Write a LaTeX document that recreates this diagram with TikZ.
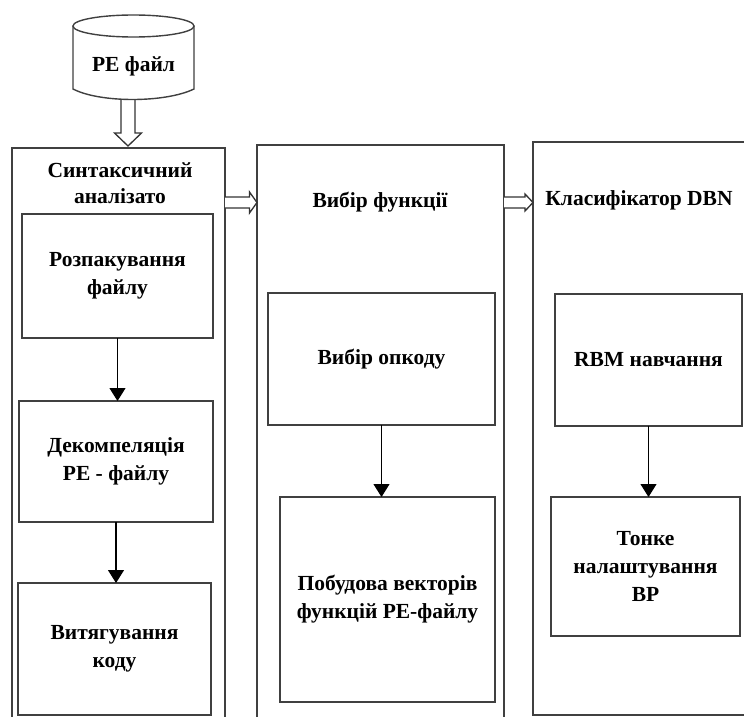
\documentclass[tikz,border=0pt]{standalone}
\usepackage{fontspec}
\setmainfont{Liberation Serif}
\usetikzlibrary{arrows.meta,calc}
\begin{document}
\begin{tikzpicture}[x=1pt,y=-1pt,
  frame/.style={draw=black!75, line width=1.4pt, outer sep=0pt, inner sep=0pt},
  block/.style={frame, fill=white, align=center,
    font=\bfseries\fontsize{21.5}{28}\selectfont},
  title/.style={align=center, inner sep=0pt,
    font=\bfseries\fontsize{21.5}{26}\selectfont},
  flow/.style={draw=black, line width=1.1pt, -{Triangle[width=16pt,length=13pt]}},
  hollow/.style={draw=black!80, line width=1.3pt, fill=white, line join=miter}
]
\useasboundingbox (0,0) rectangle (744,717);
\clip (0,0) rectangle (744,717);

% three stage containers (open past the lower and right edges)
\node[frame, minimum width=213pt, minimum height=600pt, anchor=north west] (c1) at (12,148) {};
\node[frame, minimum width=247pt, minimum height=600pt, anchor=north west] (c2) at (257,145) {};
\node[frame, minimum width=260pt, minimum height=573pt, anchor=north west] (c3) at (533,142) {};

% stage titles
\node[title] (t1) at (120,183) {Синтаксичний\\аналізато};
\node[title] (t2) at (380,202) {Вибір функції};
\node[title] (t3) at (639,200) {Класифікатор DBN};

% hollow arrow from the file store into the parser
\coordinate (a0) at (128,96);
\coordinate (a1) at (a0 |- c1.north);
\draw[hollow] ($(a0)+(-7,0)$) -- ($(a1)+(-7,-15)$) -- ($(a1)+(-13.5,-15)$)
  -- ($(a1)+(0,-2)$) -- ($(a1)+(13.5,-15)$) -- ($(a1)+(7,-15)$) -- ($(a0)+(7,0)$);

% PE file store (cylinder)
\draw[frame, fill=white] (73,26) -- (73,89) .. controls (100,103) and (165,103) .. (194,89) -- (194,26);
\draw[frame, fill=white] (133.5,26) ellipse [x radius=60.5pt, y radius=11pt];
\node[title] (pe) at (133.5,66) {PE файл};

% hollow arrows between stages
\coordinate (h1a) at (c1.north east |- 0,202.5);
\coordinate (h1b) at (c2.north west |- 0,202.5);
\draw[hollow] ($(h1a)+(0,-5.5)$) -- ($(h1b)+(-7.5,-5.5)$) -- ($(h1b)+(-7.5,-10.5)$)
  -- (h1b) -- ($(h1b)+(-7.5,10.5)$) -- ($(h1b)+(-7.5,5.5)$) -- ($(h1a)+(0,5.5)$);
\coordinate (h2a) at (c2.north east |- 0,202.5);
\coordinate (h2b) at (c3.north west |- 0,202.5);
\draw[hollow] ($(h2a)+(0,-5.5)$) -- ($(h2b)+(-8,-5.5)$) -- ($(h2b)+(-8,-8.5)$)
  -- (h2b) -- ($(h2b)+(-8,8.5)$) -- ($(h2b)+(-8,5.5)$) -- ($(h2a)+(0,5.5)$);

% parser steps
\node[block, minimum width=191pt, minimum height=124pt] (b1) at (117.5,276) {Розпакування\\файлу};
\node[block, minimum width=194pt, minimum height=121pt] (b2) at (116,461.5) {Декомпеляція\\PE - файлу};
\node[block, minimum width=193pt, minimum height=132pt] (b3) at (114.5,649) {Витягування\\коду};

% feature selection steps
\node[block, minimum width=227pt, minimum height=132pt] (m1) at (381.5,359) {Вибір опкоду};
\node[block, minimum width=215pt, minimum height=205pt] (m2) at (387.5,599.5) {Побудова векторів\\функцій PE-файлу};

% classifier steps
\node[block, minimum width=187pt, minimum height=132pt] (r1) at (648.5,360) {RBM навчання};
\node[block, minimum width=189pt, minimum height=139pt] (r2) at (645.5,566.5) {Тонке\\налаштування\\BP};

% step-to-step arrows
\draw[flow] (b1.south) -- (b1.south |- b2.north);
\draw[flow] (b2.south) -- (b2.south |- b3.north);
\draw[flow] (m1.south) -- (m1.south |- m2.north);
\draw[flow] (r1.south) -- (r1.south |- r2.north);
\end{tikzpicture}
\end{document}
